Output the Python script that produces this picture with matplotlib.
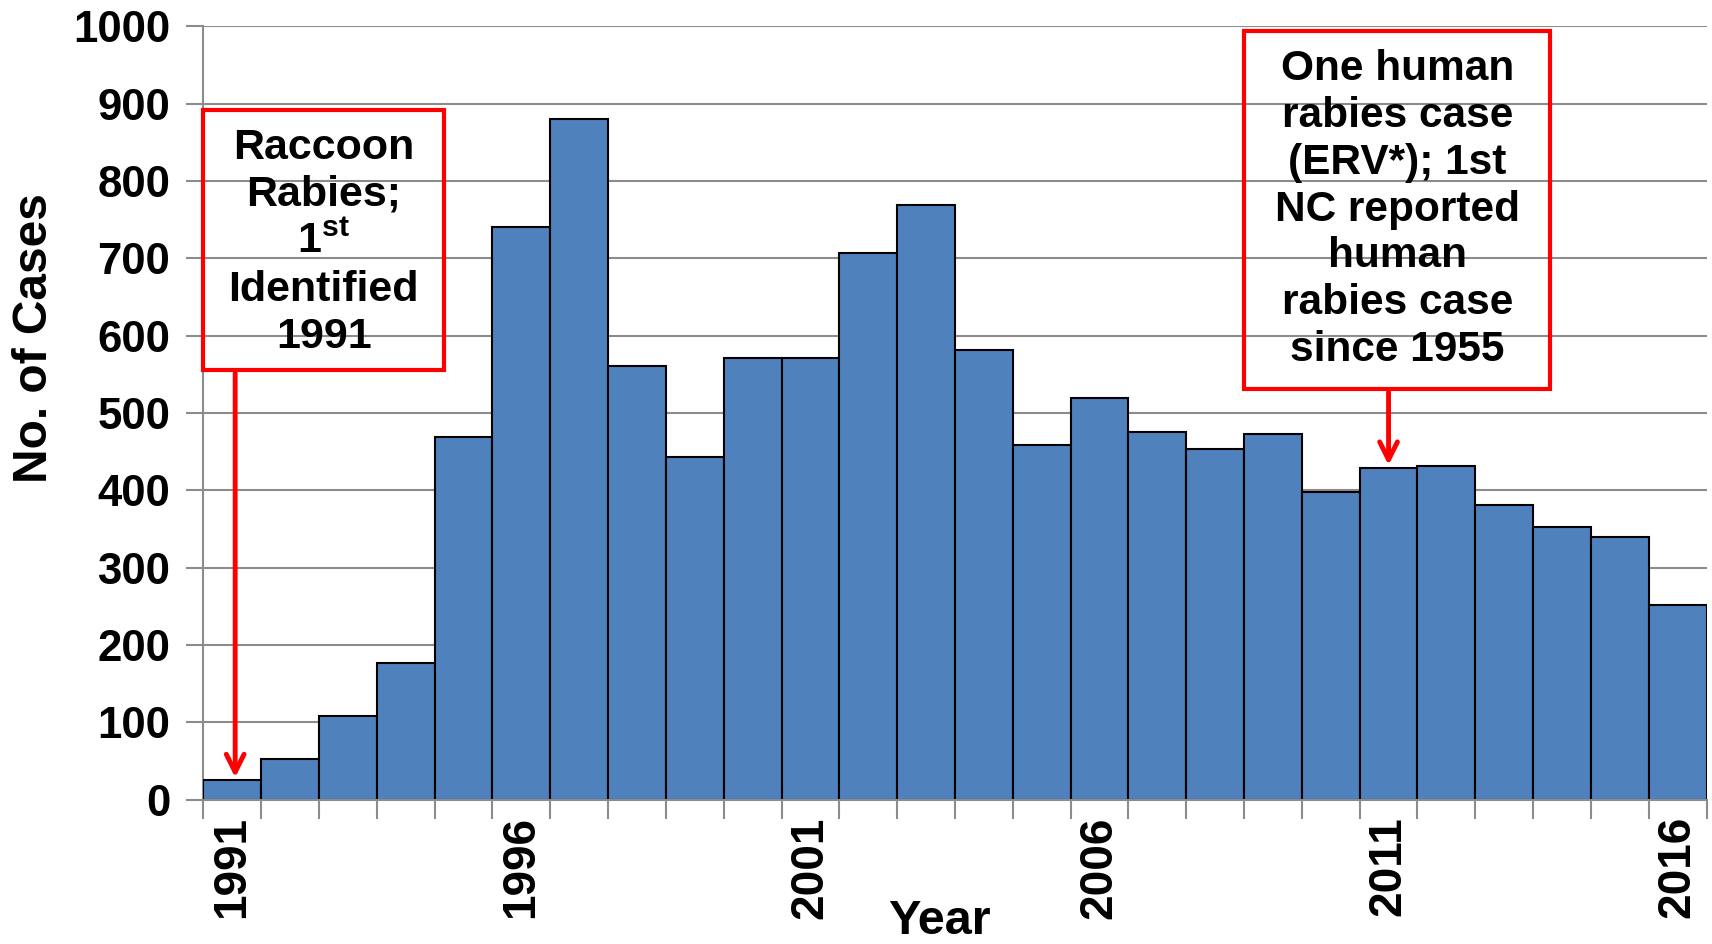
import numpy as np
import matplotlib
matplotlib.use("Agg")
import matplotlib.pyplot as plt  # noqa: E402
from matplotlib.patches import Rectangle  # noqa: E402

years = list(range(1991, 2017))
cases = [25, 52, 108, 177, 469, 741, 880, 561, 443, 571, 571, 707, 769,
         582, 459, 520, 475, 453, 473, 398, 429, 432, 381, 353, 340, 252]
label_years = [1991, 1996, 2001, 2006, 2011, 2016]

note_left = "Raccoon\nRabies;\n1$^{\\mathregular{st}}$\nIdentified\n1991"
note_right = ("One human\nrabies case\n(ERV*); 1st\nNC reported\nhuman\n"
              "rabies case\nsince 1955")

BLUE = "#4F81BD"
GRID = "#8C8C8C"
RED = "#FF0000"


def main():
    plt.rcParams["font.family"] = ["Liberation Sans", "DejaVu Sans"]
    plt.rcParams["font.weight"] = "bold"
    plt.rcParams["mathtext.fontset"] = "custom"
    plt.rcParams["mathtext.rm"] = "Liberation Sans:bold"
    plt.rcParams["mathtext.bf"] = "Liberation Sans:bold"

    fig = plt.figure(figsize=(17.12, 9.44), dpi=100)
    ax = fig.add_axes([0.1188, 0.153, 0.878, 0.819])

    x = np.arange(len(years))
    ax.bar(x, cases, width=1.0, color=BLUE, edgecolor="black", lw=1.5,
           zorder=3)

    ax.set_xlim(-0.5, len(years) - 0.5)
    ax.set_ylim(0, 1000)
    ax.set_yticks(np.arange(0, 1001, 100))
    ax.yaxis.grid(True, color=GRID, lw=1.5, zorder=0)
    ax.tick_params(axis="y", length=12, width=1.5, color=GRID, labelsize=31.5,
                   pad=12)

    # labels at bar centres, tick marks at the bar boundaries
    ax.set_xticks([years.index(y) for y in label_years])
    ax.set_xticklabels([str(y) for y in label_years], rotation=90)
    ax.set_xticks(np.arange(-0.5, len(years)), minor=True)
    ax.tick_params(axis="x", which="major", length=0, labelsize=33, pad=12)
    ax.tick_params(axis="x", which="minor", length=14, width=1.5, color=GRID)

    for s in ("top", "right"):
        ax.spines[s].set_visible(False)
    for s in ("left", "bottom"):
        ax.spines[s].set_color(GRID)
        ax.spines[s].set_linewidth(1.5)
    ax.spines["bottom"].set_zorder(4)

    fig.text(0.02, 0.642, "No. of Cases", rotation=90, ha="center",
             va="center", fontsize=34.5)
    fig.text(0.549, 0.024, "Year", ha="center", va="center", fontsize=35)

    # annotation boxes
    ax.add_patch(Rectangle((-0.5, 555), 4.16, 337, fill=False, ec=RED,
                           lw=3, zorder=5, clip_on=False))
    ax.text(1.58, 721, note_left, ha="center", va="center", fontsize=31,
            linespacing=1.23, zorder=6)
    ax.annotate("", xy=(0.05, cases[0]), xytext=(0.05, 555),
                arrowprops=dict(arrowstyle="->", color=RED, lw=3.5,
                                mutation_scale=32), zorder=6)

    ax.add_patch(Rectangle((17.5, 531), 5.29, 463, fill=False, ec=RED,
                           lw=3, zorder=5, clip_on=False))
    ax.text(20.15, 763, note_right, ha="center", va="center", fontsize=30.5,
            linespacing=1.22, zorder=6)
    i11 = years.index(2011)
    ax.annotate("", xy=(i11, cases[i11]), xytext=(i11, 531),
                arrowprops=dict(arrowstyle="->", color=RED, lw=3.5,
                                mutation_scale=32), zorder=6)

    fig.savefig("out.png", dpi=100)


if __name__ == "__main__":
    main()
